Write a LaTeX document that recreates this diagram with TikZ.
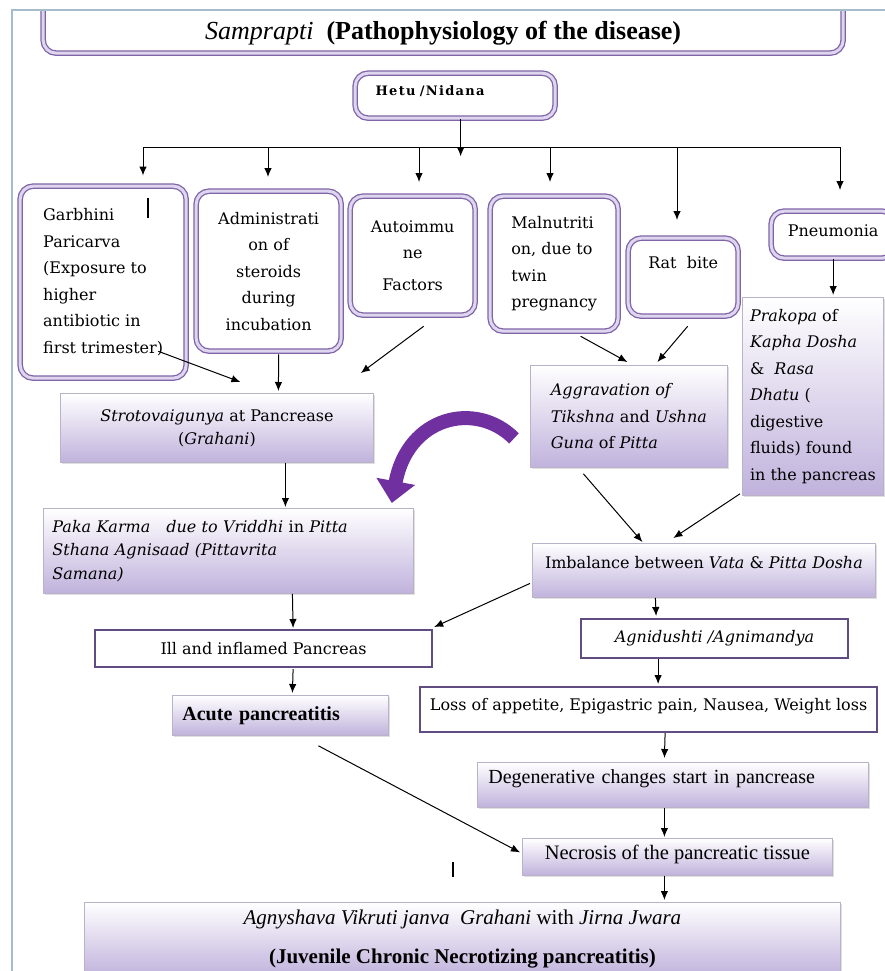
\documentclass[tikz,border=0pt]{standalone}
\usepackage{fontspec}
\setmainfont{DejaVu Serif}
\newfontfamily\timesfont{Liberation Serif}
\usepackage{xcolor}
\usepackage{tikz}
\usetikzlibrary{arrows.meta, positioning, shadows, calc}

\definecolor{boxpurple}{RGB}{128,100,168}
\definecolor{bandlav}{RGB}{222,214,238}
\definecolor{shadelav}{RGB}{192,178,220}
\definecolor{edgegray}{RGB}{185,178,200}
\definecolor{darkpurple}{RGB}{96,76,128}
\definecolor{arcpurple}{RGB}{112,48,160}
\definecolor{pageline}{RGB}{165,188,204}

\begin{document}
\begin{tikzpicture}[
    x=1pt, y=-1pt,
    font=\fontsize{16}{26.5}\selectfont,
    roundbox/.style={draw=boxpurple, double=bandlav, double distance=3pt, line width=1.3pt, rounded corners=13pt, fill=white, anchor=north west, inner sep=0pt},
    shadebox/.style={draw=edgegray, line width=0.8pt, top color=white, bottom color=shadelav, anchor=north west, inner sep=0pt, drop shadow={opacity=0.25, shadow xshift=2pt, shadow yshift=-2pt}},
    linebox/.style={draw=darkpurple, line width=2.2pt, fill=white, anchor=north west, inner sep=0pt},
    arrow/.style={line width=1pt, -{Latex[length=9pt, width=7.5pt]}},
    purplecurve/.style={draw=arcpurple, line width=14pt, -{Triangle[length=22pt, width=38pt]}}
]
\useasboundingbox (0,0) rectangle (885,971);
\clip (0,0) rectangle (885,971);
\fill[white] (0,0) rectangle (885,971);

% Title and cause
\node[roundbox, minimum width=800pt, inner ysep=9.5pt, text height=60pt, text depth=4pt, font=\timesfont\fontsize{26}{30}\selectfont] (title) at (42.5,-30.5) {\textit{Samprapti}\ \ \textbf{(Pathophysiology of the disease)}};
\node[roundbox, text width=159pt, inner xsep=20.5pt, inner ysep=8pt, text height=14pt, text depth=15pt, align=left, font=\fontsize{13}{15}\selectfont\bfseries\addfontfeature{LetterSpace=10}] (hetu) at (354.5,72.5) {Hetu /Nidana};

% Hetu branches
\node[roundbox, minimum width=166pt, minimum height=192pt, align=left] (garbhini) at (19.5,185.5) {Garbhini\\Paricarva\\(Exposure to\\higher\\antibiotic in\\first trimester)};
\node[roundbox, minimum width=145pt, minimum height=160pt, align=center] (steroids) at (195.5,190.5) {Administrati\\on of\\steroids\\during\\incubation};
\node[roundbox, minimum width=125pt, minimum height=119pt, align=center] (autoimmune) at (349.5,195.5) {Autoimmu\\ne\\[5pt]Factors};
\node[roundbox, minimum width=128pt, minimum height=135pt, align=left] (malnutrition) at (489.5,195.5) {Malnutriti\\on, due to\\twin\\pregnancy};
\node[roundbox, minimum width=110pt, inner ysep=8pt, text height=22.5pt, text depth=39.5pt] (ratbite) at (627.5,237.5) {Rat\ \ bite};
\node[roundbox, minimum width=124pt, inner ysep=6pt, text height=19.5pt, text depth=15.5pt] (pneumonia) at (770.5,210.5) {Pneumonia};

% Dosha and srotas
\node[shadebox, minimum width=141pt, minimum height=198pt, align=left] (prakopa) at (742,297) {\textit{Prakopa} of\\\textit{Kapha Dosha}\\\& \ \textit{Rasa}\\\textit{Dhatu} (\\digestive\\fluids) found\\in the pancreas};
\node[shadebox, minimum width=313pt, minimum height=69pt, align=center, font=\fontsize{16}{23}\selectfont] (srotas) at (60,393) {\textit{Strotovaigunya} at Pancrease\\(\textit{Grahani})};
\node[shadebox, minimum width=197pt, minimum height=102pt, align=left] (aggravation) at (530,365) {\textit{Aggravation of}\\\textit{Tikshna} and \textit{Ushna}\\\textit{Guna} of \textit{Pitta}};
\node[shadebox, minimum height=85pt, text width=352pt, inner xsep=9pt, align=left, font=\fontsize{16}{23.5}\selectfont] (pakakarma) at (43,508) {\textit{Paka Karma}\ \ \ \textit{due to Vriddhi} in \textit{Pitta}\\\textit{Sthana Agnisaad (Pittavrita}\\\textit{Samana)}};
\node[shadebox, minimum width=343pt, inner ysep=8pt, text height=17pt, text depth=21pt] (imbalance) at (532,543) {Imbalance between \textit{Vata} \& \textit{Pitta Dosha}};

% Disease course
\node[linebox, minimum width=337pt, minimum height=37pt] (inflamed) at (94,629) {Ill and inflamed Pancreas};
\node[linebox, minimum width=267pt, minimum height=39pt] (agnidushti) at (580,618) {\textit{Agnidushti /Agnimandya}};
\node[shadebox, minimum height=40pt, text width=196pt, inner xsep=10pt, align=left, font=\timesfont\fontsize{20}{24}\selectfont\bfseries] (acute) at (172,695) {Acute pancreatitis};
\node[linebox, minimum width=457pt, inner ysep=6pt, text height=17pt, text depth=16pt] (symptoms) at (419,686) {Loss of appetite, Epigastric pain, Nausea, Weight loss};
\node[shadebox, text width=369pt, inner xsep=11pt, inner ysep=5pt, text height=16pt, text depth=19pt, align=left, font=\timesfont\fontsize{20}{23}\selectfont] (degenerative) at (477,762) {Degenerative changes start in pancrease};
\node[shadebox, minimum width=310pt, inner ysep=4pt, text height=17pt, text depth=12pt, font=\timesfont\fontsize{20.5}{23}\selectfont] (necrosis) at (522,838) {Necrosis of the pancreatic tissue};
\node[shadebox, minimum width=756pt, minimum height=74pt, align=center, font=\timesfont\fontsize{21}{39}\selectfont] (outcome) at (84,902) {\textit{Agnyshava Vikruti janva}\ \ \textit{Grahani} with \textit{Jirna Jwara}\\\textbf{(Juvenile Chronic Necrotizing pancreatitis)}};

% Hetu to branches
\coordinate (busL) at (143,147);
\coordinate (busB) at (268,147);
\coordinate (busC) at (419,147);
\coordinate (busD) at (550,147);
\coordinate (busE) at (677,147);
\coordinate (busR) at (840,147);
\draw[arrow] ($(hetu.south)+(5.5,0)$) -- ($(hetu.south)+(5.5,37.5)$);
\draw[line width=1pt] (busL) -- (busR);
\foreach \tip/\nd/\sh in {busL/garbhini/10, busB/steroids/13.5, busC/autoimmune/13.5, busD/malnutrition/13.5, busE/ratbite/17.5, busR/pneumonia/20.5}
    \draw[arrow, shorten >=\sh pt] (\tip) -- (\tip |- \nd.north);

% Explicit connections
\draw[arrow] ($(garbhini.south east)+(-28.5,-27.5)$) -- ($(srotas.north)+(23.5,-11)$);
\draw[arrow] ($(steroids.south)+(10,2.5)$) -- ($(srotas.north)+(61.5,-2)$);
\draw[arrow] ($(autoimmune.south)+(11,10.5)$) -- ($(srotas.north east)+(-13,-20)$);
\draw[arrow] ($(malnutrition.south)+(26.5,4.5)$) -- ($(aggravation.north)+(-1.5,-3)$);
\draw[arrow] ($(ratbite.south)+(4.5,9.5)$) -- ($(aggravation.north)+(28.5,-3)$);
\draw[arrow, shorten >=2pt] (pneumonia.south) -- (pneumonia.south |- prakopa.north);
\draw[arrow] ($(srotas.south)+(68.5,0)$) -- ($(pakakarma.north)+(57,-1)$);
\draw[arrow] ($(aggravation.south)+(-45.5,6)$) -- ($(imbalance.north)+(-61.5,-1)$);
\draw[arrow] ($(prakopa.south west)+(-2,-2)$) -- ($(imbalance.north)+(-30.5,-5)$);
\draw[purplecurve] ($(aggravation.west)+(-16,22)$) .. controls ($(aggravation.west)+(-54,-16)$) and ($(pakakarma.north east)+(-6,-92)$) .. ($(pakakarma.north east)+(-22,-5)$);
\draw[arrow] ($(pakakarma.south)+(64,0)$) -- ($(inflamed.north)+(29.5,-1)$);
\draw[arrow] ($(imbalance.west)+(-2,13)$) -- ($(inflamed.north east)+(1,-2)$);
\draw[arrow] ($(imbalance.south)+(-48.5,0)$) -- ($(agnidushti.north)+(-58.5,-2)$);
\draw[arrow] ($(inflamed.south)+(29.5,1)$) -- ($(acute.north)+(12,-2)$);
\draw[arrow] ($(agnidushti.south)+(-56.5,0)$) -- ($(symptoms.north)+(9.5,-2)$);
\draw[arrow] ($(symptoms.south)+(16.5,0)$) -- ($(degenerative.north)+(-8.5,-4)$);
\draw[arrow] ($(degenerative.south)+(-8.5,0)$) -- ($(necrosis.north)+(-13,-1)$);
\draw[arrow] ($(acute.south)+(38,10)$) -- ($(necrosis.west)+(-2,-4.5)$);
\draw[arrow] ($(necrosis.south)+(-13,0)$) -- ($(outcome.north)+(202,-2)$);

% stray marks
\draw[line width=1.2pt] (148,198) -- (148,218);
\draw[line width=2pt] (453,862) -- (453,877);

% page frame
\fill[white] (0,0) rectangle (885,9);
\draw[pageline, line width=2.5pt] (885,10) -- (12,10) -- (12,971);
\end{tikzpicture}
\end{document}
